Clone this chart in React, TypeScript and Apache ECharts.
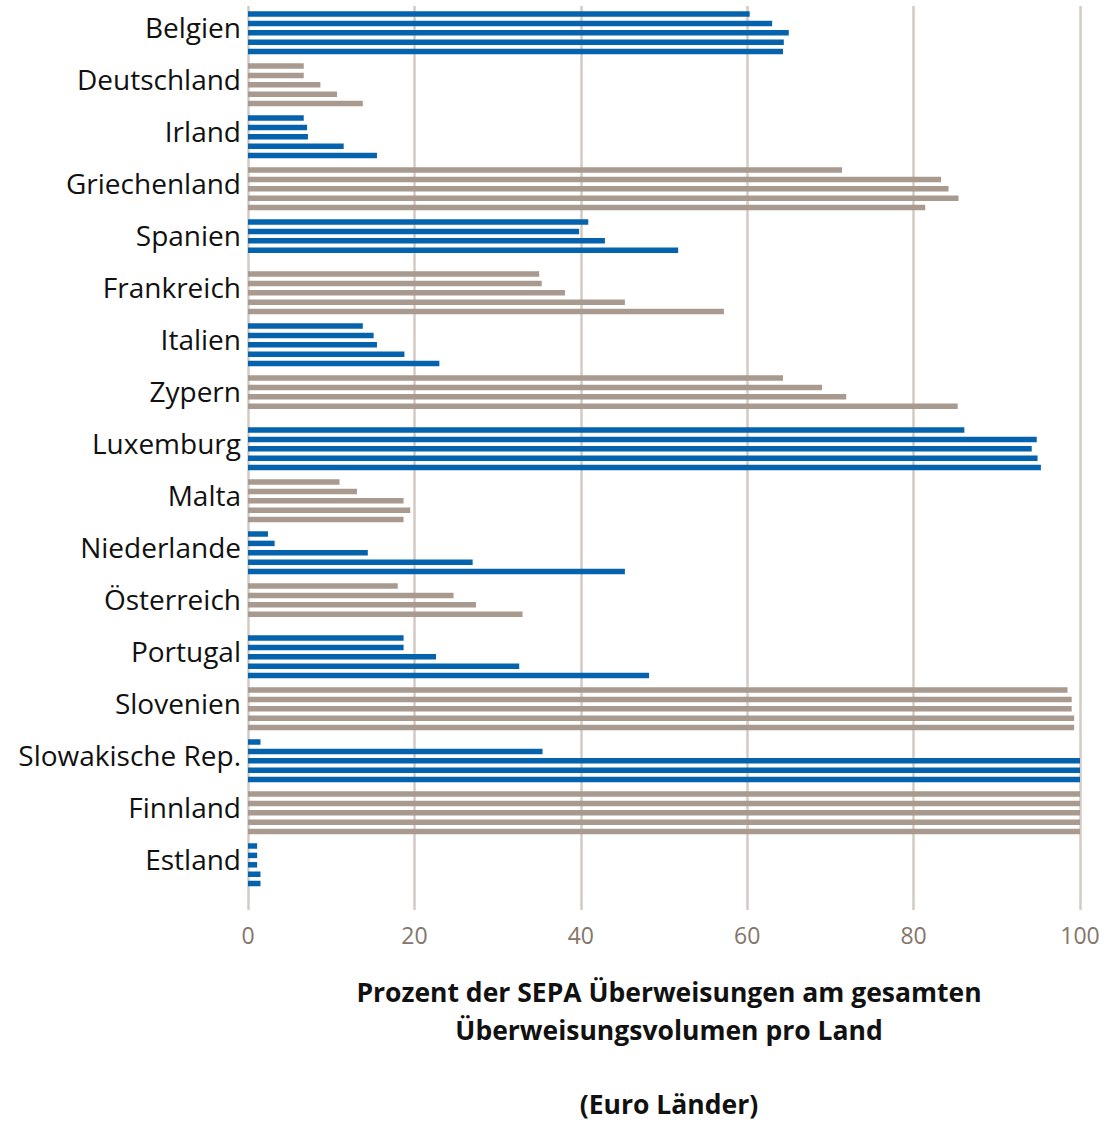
import React, { useEffect, useRef } from "react";
import * as echarts from "echarts";

const countries = [
  "Belgien",
  "Deutschland",
  "Irland",
  "Griechenland",
  "Spanien",
  "Frankreich",
  "Italien",
  "Zypern",
  "Luxemburg",
  "Malta",
  "Niederlande",
  "Österreich",
  "Portugal",
  "Slovenien",
  "Slowakische Rep.",
  "Finnland",
  "Estland",
];

const bar1 = [60.3, 6.7, 6.7, 71.4, 40.9, 35.0, 13.8, 64.3, 86.1, 11.0, 2.4, 18.0, 18.7, 98.5, 1.5, 100, 1.1];
const bar2 = [63.0, 6.7, 7.1, 83.3, 39.8, 35.3, 15.1, 69.0, 94.8, 13.1, 3.2, 24.7, 18.7, 99.0, 35.4, 100, 1.1];
const bar3 = [65.0, 8.7, 7.2, 84.2, 42.9, 38.1, 15.5, 71.9, 94.2, 18.7, 14.4, 27.4, 22.6, 99.0, 100, 100, 1.1];
const bar4 = [64.4, 10.7, 11.5, 85.4, 51.7, 45.3, 18.8, 85.3, 94.9, 19.5, 27.0, 33.0, 32.6, 99.3, 100, 100, 1.5];
const bar5 = [64.3, 13.8, 15.5, 81.4, null, 57.2, 23.0, null, 95.3, 18.7, 45.3, null, 48.2, 99.3, 100, 100, 1.5];

const xTicks = [0, 20, 40, 60, 80, 100];

const titleLines = [
  "Prozent der SEPA Überweisungen am gesamten",
  "Überweisungsvolumen pro Land",
  "(Euro Länder)",
];

const BLUE = "#0563ad";
const GRAY = "#a89a8e";
const FONT = "'Open Sans', sans-serif";

export default function App() {
  const ref = useRef<HTMLDivElement>(null);

  useEffect(() => {
    if (!ref.current) return;
    const chart = echarts.init(ref.current, undefined, { renderer: "svg" });
    const allBars = [bar1, bar2, bar3, bar4, bar5];
    const series = allBars.map((arr) => ({
      type: "bar",
      xAxisIndex: 0,
      yAxisIndex: 0,
      barWidth: 5.5,
      barGap: "71%",
      data: arr.map((v, i) => ({
        value: v,
        itemStyle: { color: i % 2 === 0 ? BLUE : GRAY },
      })),
    }));

    const titleStyle = (text: string) => ({
      text,
      font: `bold 26.5px ${FONT}`,
      fill: "#111111",
      textAlign: "center",
      textVerticalAlign: "middle",
    });

    chart.setOption({
      animation: false,
      backgroundColor: "#ffffff",
      grid: [
        { left: 248, top: 6.8, width: 832, height: 884 },
        { left: 248, top: 6, width: 832, height: 904 },
      ],
      xAxis: [
        { gridIndex: 0, type: "value", min: 0, max: 100, show: false },
        {
          gridIndex: 1,
          type: "value",
          min: xTicks[0],
          max: xTicks[xTicks.length - 1],
          interval: 20,
          axisLine: { show: false },
          axisTick: { show: false },
          splitLine: { show: true, lineStyle: { color: "#d3cac3", width: 2.5 } },
          axisLabel: {
            fontSize: 23,
            color: "#85756a",
            fontFamily: FONT,
            margin: 13,
          },
        },
      ],
      yAxis: [
        {
          gridIndex: 0,
          type: "category",
          inverse: true,
          data: countries,
          axisLine: { show: false },
          axisTick: { show: false },
          splitLine: { show: false },
          axisLabel: {
            fontSize: 28,
            color: "#111111",
            fontFamily: FONT,
            margin: 7,
            verticalAlign: "bottom",
            lineHeight: 11,
          },
        },
        { gridIndex: 1, type: "value", show: false },
      ],
      series,
      graphic: [
        { type: "text", x: 669, y: 992, style: titleStyle(titleLines[0]) },
        { type: "text", x: 669, y: 1030, style: titleStyle(titleLines[1]) },
        { type: "text", x: 669, y: 1104, style: titleStyle(titleLines[2]) },
      ],
    });
    return () => chart.dispose();
  }, []);

  return (
    <div
      ref={ref}
      style={{ position: "absolute", left: 0, top: 0, width: 1115, height: 1122 }}
    />
  );
}
